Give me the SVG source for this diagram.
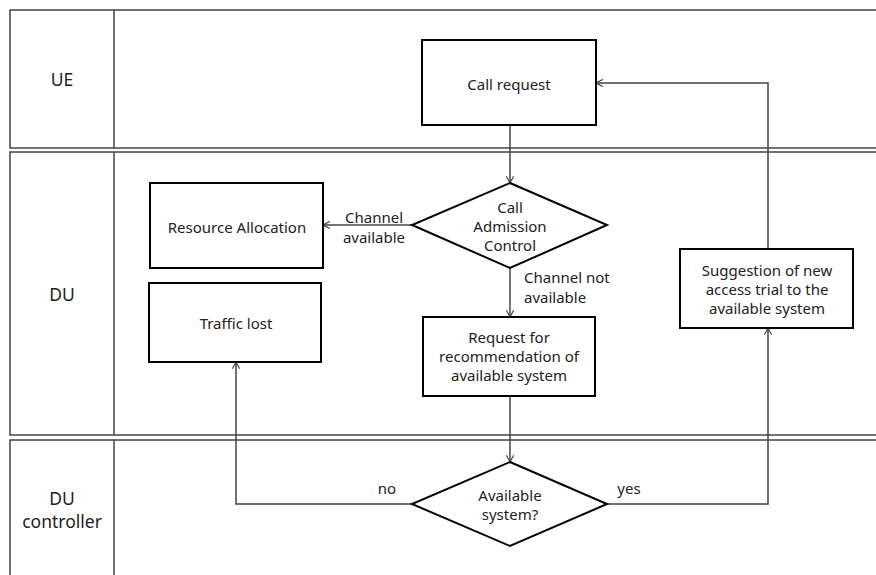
<svg xmlns="http://www.w3.org/2000/svg" width="876" height="575" viewBox="0 0 876 575">
<defs>
<marker id="open" viewBox="0 0 10 10" refX="9.5" refY="5" markerWidth="8" markerHeight="8" markerUnits="userSpaceOnUse" orient="auto">
<path d="M1,0.5 L9.5,5 L1,9.5" fill="none" stroke="#444" stroke-width="1.4"/>
</marker>
</defs>
<style>
.lane{fill:#fff;stroke:#444;stroke-width:1.5}
.box{fill:#fff;stroke:#000;stroke-width:2}
.t{font-family:"Noto Sans","Open Sans","DejaVu Sans",sans-serif;font-size:15px;fill:#222;text-anchor:middle;dominant-baseline:central}
.big{font-size:17.5px}
.l{text-anchor:start}
.c{fill:none;stroke:#444;stroke-width:1.5}
</style>
<g id="lane-ue">
<rect class="lane" x="10" y="10" width="880" height="138"/>
<line class="lane" x1="114" y1="10" x2="114" y2="148"/>
<text class="t big" x="62" y="79">UE</text>
</g>
<g id="lane-du">
<rect class="lane" x="10" y="152" width="880" height="283"/>
<line class="lane" x1="114" y1="152" x2="114" y2="435"/>
<text class="t big" x="62" y="294">DU</text>
</g>
<g id="lane-ductrl">
<rect class="lane" x="10" y="440" width="880" height="145"/>
<line class="lane" x1="114" y1="440" x2="114" y2="585"/>
<text class="t big" x="62" y="498">DU</text>
<text class="t big" x="62" y="521">controller</text>
</g>
<g id="connectors">
<line class="c" x1="510" y1="125" x2="510" y2="183" marker-end="url(#open)"/>
<line class="c" x1="412" y1="225" x2="323" y2="225" marker-end="url(#open)"/>
<line class="c" x1="510" y1="268" x2="510" y2="317" marker-end="url(#open)"/>
<line class="c" x1="510" y1="396" x2="510" y2="462" marker-end="url(#open)"/>
<polyline class="c" points="412,504 236,504 236,362" marker-end="url(#open)"/>
<polyline class="c" points="607,504 768,504 768,328" marker-end="url(#open)"/>
<polyline class="c" points="768,249 768,83 596,83" marker-end="url(#open)"/>
<text class="t" x="374" y="217">Channel</text>
<text class="t" x="374" y="237">available</text>
<text class="t l" x="524" y="277">Channel not</text>
<text class="t l" x="524" y="297">available</text>
<text class="t" x="387" y="488">no</text>
<text class="t" x="629" y="488">yes</text>
</g>
<g id="call-request">
<rect class="box" x="422" y="40" width="174" height="85"/>
<text class="t" x="509" y="84">Call request</text>
</g>
<g id="cac">
<polygon class="box" points="510,183 607,225 510,268 412,225"/>
<text class="t" x="510" y="207">Call</text>
<text class="t" x="510" y="226">Admission</text>
<text class="t" x="510" y="245">Control</text>
</g>
<g id="resource-allocation">
<rect class="box" x="150" y="183" width="173" height="85"/>
<text class="t" x="237" y="227">Resource Allocation</text>
</g>
<g id="traffic-lost">
<rect class="box" x="149" y="283" width="172" height="79"/>
<text class="t" x="236" y="323">Traffic lost</text>
</g>
<g id="request-recommendation">
<rect class="box" x="423" y="317" width="172" height="79"/>
<text class="t" x="509" y="337">Request for</text>
<text class="t" x="509" y="356">recommendation of</text>
<text class="t" x="509" y="375">available system</text>
</g>
<g id="suggestion">
<rect class="box" x="680" y="249" width="173" height="79"/>
<text class="t" x="767" y="270">Suggestion of new</text>
<text class="t" x="767" y="289">access trial to the</text>
<text class="t" x="767" y="308">available system</text>
</g>
<g id="available-system">
<polygon class="box" points="510,462 607,504 510,546 412,504"/>
<text class="t" x="510" y="495">Available</text>
<text class="t" x="510" y="514">system?</text>
</g>
</svg>
